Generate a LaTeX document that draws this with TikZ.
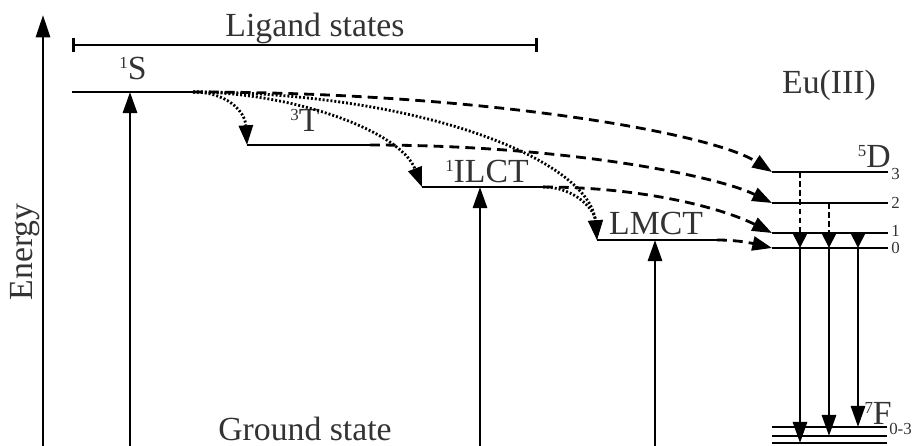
\documentclass[tikz,border=0pt]{standalone}
\usepackage{fontspec}
\setmainfont{Liberation Serif}
\usetikzlibrary{arrows.meta}

\newcommand{\upidx}[1]{\raisebox{8.5pt}{\fontsize{12}{14}\selectfont #1}}

\begin{document}
\begin{tikzpicture}[x=0.025cm,y=-0.025cm,
    lvl/.style={line width=2pt},
    tip/.style={-{Triangle[length=14pt,width=10pt]}},
    excite/.style={lvl,-{Triangle[length=15pt,width=10pt]}},
    transfer/.style={line width=2pt,dash pattern=on 7pt off 4.3pt,tip},
    hop/.style={line width=2pt,dash pattern=on 1.4pt off 1.4pt,tip},
    relax/.style={line width=2pt,dash pattern=on 4pt off 2.5pt,-{Triangle[length=10pt,width=9.5pt]}},
    emit/.style={lvl,-{Triangle[length=15pt,width=10pt]}},
    txt/.style={text=black!80,font=\fontsize{24}{28}\selectfont,inner sep=0pt},
    small/.style={text=black!80,font=\fontsize{12}{14}\selectfont,inner sep=0pt}]

\useasboundingbox (0,0) rectangle (916,446);

% energy axis
\coordinate (axb) at (43,446);
\coordinate (axt) at (43,15);
\draw[lvl,-{Triangle[length=16pt,width=10pt]}] (axb) -- (axt);
\node[txt,rotate=90,anchor=base] (energy) at (32,252) {Energy};

% ligand states bracket
\coordinate (brl) at (72,45);
\coordinate (brr) at (538,45);
\draw[lvl,{Bar[width=10pt]}-{Bar[width=10pt]}] (brl) -- (brr);
\node[txt,anchor=base] (ligand) at (315,37) {Ligand states};

% ligand levels
\coordinate (s1l) at (72,92);   \coordinate (s1r) at (193,92);   \coordinate (s1x) at (130,92);
\coordinate (t3l) at (247,145); \coordinate (t3r) at (370,145);
\coordinate (il) at (422,187);  \coordinate (ir) at (543,187);   \coordinate (ix) at (480,187);
\coordinate (ml) at (597,240);  \coordinate (mr) at (717,240);   \coordinate (mx) at (655,240);
\draw[lvl] (s1l) -- (s1r);
\draw[lvl] (t3l) -- (t3r);
\draw[lvl] (il) -- (ir);
\draw[lvl] (ml) -- (mr);
\node[txt,anchor=base] (s1) at (133,80) {\upidx{1}S};
\node[txt,anchor=base] (t3) at (305,132) {\upidx{3}T};
\node[txt,anchor=base] (ilct) at (487,183) {\upidx{1}ILCT};
\node[txt,anchor=base] (lmct) at (656,235) {LMCT};

% Eu(III) levels
\node[txt,anchor=base] (eu) at (829,94) {Eu(III)};
\coordinate (d3l) at (772,172); \coordinate (d3r) at (888,172);
\coordinate (d2l) at (772,203); \coordinate (d2r) at (888,203);
\coordinate (d1l) at (772,233); \coordinate (d1r) at (888,233);
\coordinate (d0l) at (772,248); \coordinate (d0r) at (888,248);
\draw[lvl] (d3l) -- (d3r);
\draw[lvl] (d2l) -- (d2r);
\draw[lvl] (d1l) -- (d1r);
\draw[lvl] (d0l) -- (d0r);
\node[txt,anchor=base east] (d5) at (891,168) {\upidx{5}D};
\node[small,anchor=west] (n3) at (891,174) {3};
\node[small,anchor=west] (n2) at (891,203) {2};
\node[small,anchor=west] (n1) at (891,231) {1};
\node[small,anchor=west] (n0) at (891,248) {0};

% ground levels of Eu
\coordinate (fal) at (772,427); \coordinate (far) at (887,427);
\coordinate (fbl) at (772,436); \coordinate (fbr) at (887,436);
\coordinate (fcl) at (772,443); \coordinate (fcr) at (887,443);
\draw[lvl] (fal) -- (far);
\draw[lvl] (fbl) -- (fbr);
\draw[lvl] (fcl) -- (fcr);
\node[txt,anchor=base east] (f7) at (892,425) {\upidx{7}F};
\node[small,anchor=west] (f03) at (889,429) {0-3};

\node[txt,anchor=base] (ground) at (305,440) {Ground state};

% excitation
\draw[excite] (130,446) -- (s1x);
\draw[excite] (480,446) -- (ix);
\draw[excite] (655,446) -- (mx);

% transfer inside ligand
\draw[hop] (s1r) .. controls (225,92) and (245,110) .. (t3l);
\draw[hop] (s1r) .. controls (290,92) and (400,130) .. (il);
\draw[hop] (s1r) .. controls (420,92) and (590,160) .. (ml);
\draw[hop] (ir) .. controls (575,187) and (595,210) .. (ml);

% transfer to Eu
\draw[transfer] (s1r) .. controls (480,92) and (712,133) .. (d3l);
\draw[transfer] (t3r) .. controls (560,145) and (715,175) .. (d2l);
\draw[transfer] (ir) .. controls (640,187) and (720,207) .. (d1l);
\draw[transfer] (mr) .. controls (740,240) and (755,244) .. (d0l);

% relaxation and emission
\coordinate (ra) at (800,172); \coordinate (rb) at (829,203); \coordinate (rc) at (858,233);
\coordinate (ea) at (800,248); \coordinate (eb) at (829,248); \coordinate (ec) at (858,248);
\draw[relax] (ra) -- (ea);
\draw[relax] (rb) -- (eb);
\draw[lvl,-{Triangle[length=10pt,width=9.5pt]}] (rc) -- (ec);
\draw[emit] (ea) -- (800,443);
\draw[emit] (eb) -- (829,436);
\draw[emit] (ec) -- (858,427);

\end{tikzpicture}
\end{document}
